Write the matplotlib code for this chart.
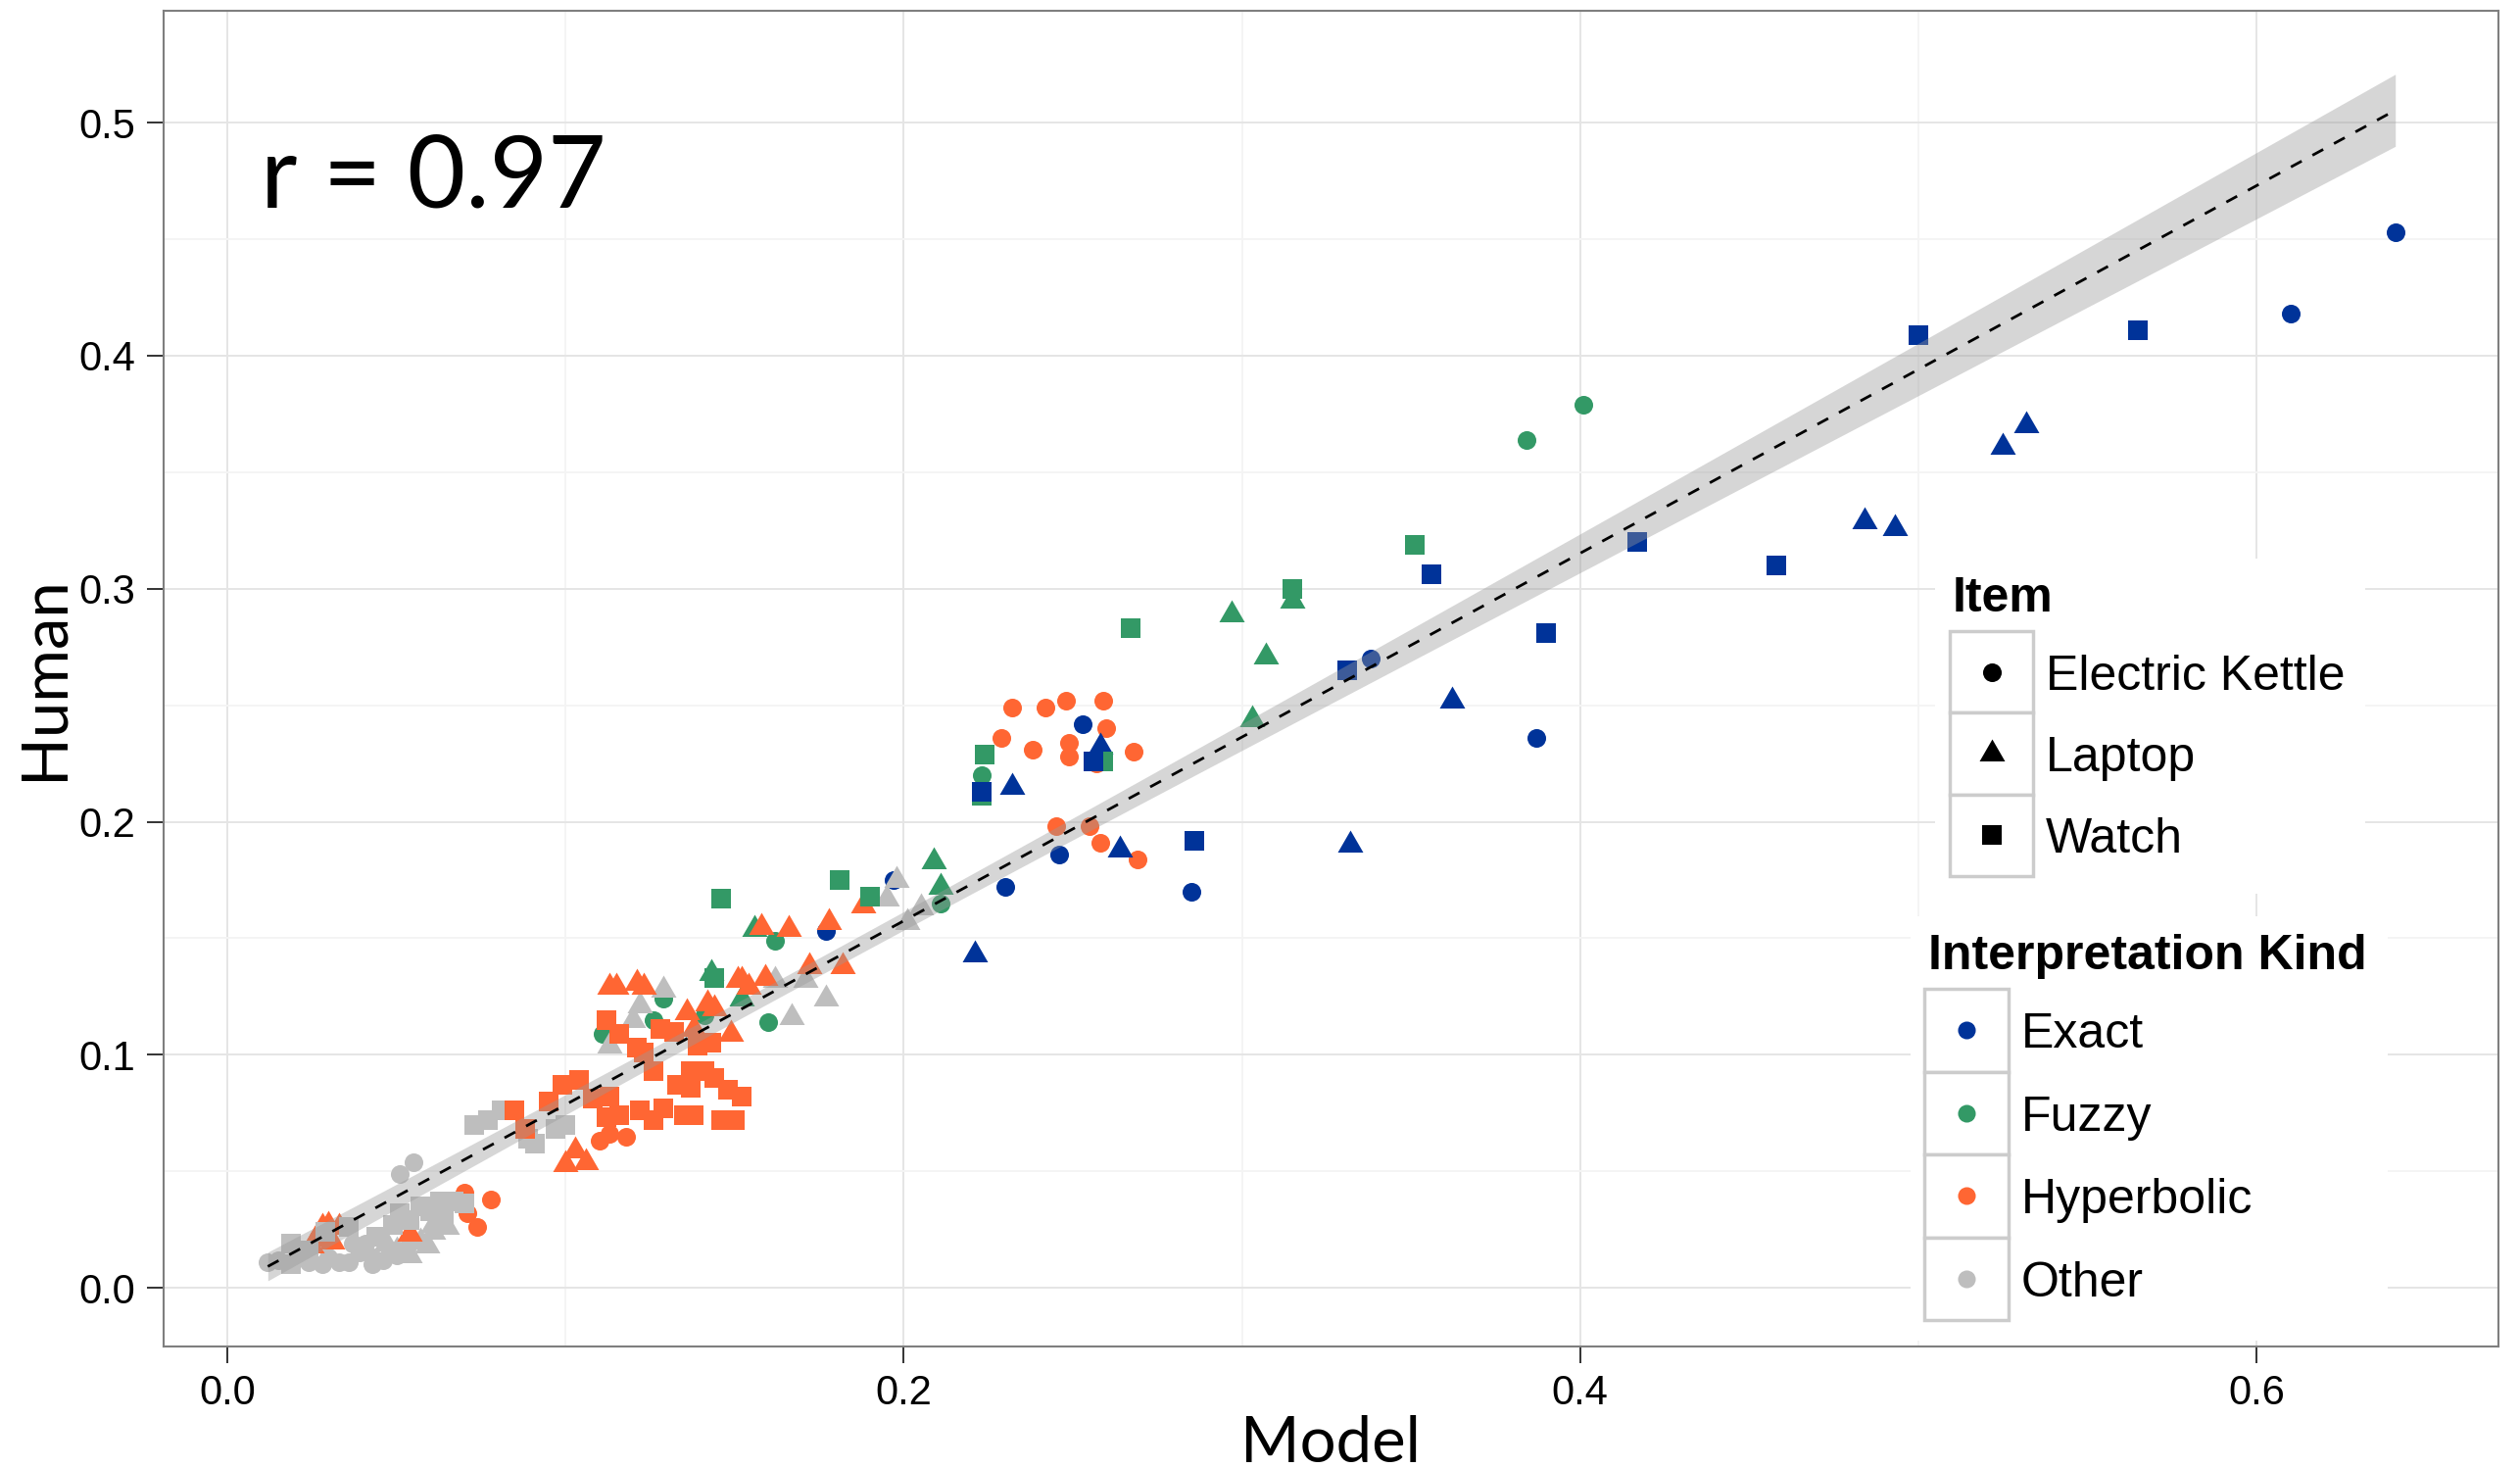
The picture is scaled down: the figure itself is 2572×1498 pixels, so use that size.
import numpy as np
import matplotlib
matplotlib.use('Agg')
import matplotlib.pyplot as plt
from matplotlib.path import Path
from matplotlib.patches import Rectangle
from matplotlib.lines import Line2D

# values (model prediction vs human proportion)
kinds = ['Exact', 'Fuzzy', 'Hyperbolic', 'Other']
items = ['Electric Kettle', 'Laptop', 'Watch']
kind_colors = ['#003399', '#339966', '#FF6633', '#BEBEBE']

exact_kettle_model = [0.641, 0.610, 0.387, 0.338, 0.285, 0.253, 0.246, 0.230, 0.197, 0.177]
exact_kettle_human = [0.453, 0.418, 0.236, 0.270, 0.170, 0.242, 0.186, 0.172, 0.175, 0.153]
exact_laptop_model = [0.532, 0.525, 0.484, 0.493, 0.362, 0.332, 0.258, 0.264, 0.232, 0.221]
exact_laptop_human = [0.370, 0.361, 0.329, 0.326, 0.252, 0.190, 0.232, 0.188, 0.215, 0.143]
exact_watch_model = [0.565, 0.500, 0.458, 0.417, 0.390, 0.356, 0.331, 0.286, 0.256, 0.223]
exact_watch_human = [0.411, 0.409, 0.310, 0.320, 0.281, 0.306, 0.265, 0.192, 0.226, 0.213]

fuzzy_kettle_model = [0.401, 0.384, 0.223, 0.211, 0.162, 0.160, 0.141, 0.129, 0.126, 0.111]
fuzzy_kettle_human = [0.379, 0.364, 0.220, 0.165, 0.149, 0.114, 0.117, 0.124, 0.115, 0.109]
fuzzy_laptop_model = [0.315, 0.297, 0.307, 0.303, 0.209, 0.211, 0.156, 0.143, 0.152]
fuzzy_laptop_human = [0.295, 0.289, 0.271, 0.244, 0.183, 0.172, 0.154, 0.135, 0.124]
fuzzy_watch_model = [0.351, 0.315, 0.267, 0.224, 0.223, 0.259, 0.181, 0.190, 0.146, 0.144]
fuzzy_watch_human = [0.319, 0.300, 0.283, 0.229, 0.211, 0.226, 0.175, 0.168, 0.167, 0.133]

hyper_kettle_model = [0.232, 0.242, 0.248, 0.259, 0.260, 0.229, 0.238, 0.249, 0.249, 0.268, 0.257,
                      0.245, 0.255, 0.258, 0.269, 0.110, 0.113, 0.118, 0.070, 0.078, 0.074, 0.071]
hyper_kettle_human = [0.249, 0.249, 0.252, 0.252, 0.240, 0.236, 0.231, 0.234, 0.228, 0.230, 0.225,
                      0.198, 0.198, 0.191, 0.184, 0.063, 0.066, 0.065, 0.041, 0.038, 0.026, 0.032]
hyper_laptop_model = [0.188, 0.178, 0.158, 0.166, 0.172, 0.182, 0.113, 0.115, 0.121, 0.123, 0.151,
                      0.152, 0.154, 0.159, 0.136, 0.142, 0.144, 0.138, 0.149, 0.100, 0.103, 0.106,
                      0.026, 0.028, 0.030, 0.033, 0.054, 0.025, 0.031]
hyper_laptop_human = [0.164, 0.157, 0.155, 0.154, 0.138, 0.138, 0.129, 0.129, 0.131, 0.129, 0.132,
                      0.132, 0.129, 0.133, 0.118, 0.122, 0.120, 0.111, 0.109, 0.053, 0.059, 0.054,
                      0.021, 0.026, 0.027, 0.026, 0.023, 0.018, 0.020]
hyper_watch_model = [0.112, 0.116, 0.121, 0.123, 0.126, 0.128, 0.132, 0.139, 0.143, 0.137, 0.141,
                     0.133, 0.137, 0.144, 0.148, 0.152, 0.085, 0.088, 0.095, 0.099, 0.104, 0.108,
                     0.113, 0.112, 0.116, 0.122, 0.126, 0.129, 0.135, 0.138, 0.146, 0.150]
hyper_watch_human = [0.115, 0.109, 0.103, 0.101, 0.093, 0.111, 0.110, 0.104, 0.105, 0.093, 0.093,
                     0.087, 0.086, 0.090, 0.085, 0.082, 0.076, 0.068, 0.080, 0.087, 0.089, 0.081,
                     0.082, 0.073, 0.074, 0.076, 0.072, 0.077, 0.074, 0.074, 0.072, 0.072]

other_kettle_model = [0.012, 0.028, 0.033, 0.037, 0.041, 0.043, 0.043, 0.050, 0.051, 0.055,
                      0.015, 0.021, 0.024, 0.030, 0.036, 0.039, 0.046, 0.048, 0.053]
other_kettle_human = [0.011, 0.010, 0.011, 0.019, 0.019, 0.013, 0.010, 0.014, 0.049, 0.054,
                      0.012, 0.013, 0.011, 0.013, 0.011, 0.015, 0.012, 0.016, 0.017]
other_laptop_model = [0.050, 0.054, 0.061, 0.061, 0.113, 0.120, 0.122, 0.129, 0.162, 0.167, 0.171,
                      0.177, 0.195, 0.198, 0.201, 0.205, 0.047, 0.057, 0.059, 0.065]
other_laptop_human = [0.016, 0.014, 0.024, 0.027, 0.104, 0.115, 0.121, 0.128, 0.132, 0.116, 0.132,
                      0.124, 0.167, 0.175, 0.157, 0.163, 0.019, 0.020, 0.018, 0.026]
other_watch_model = [0.019, 0.019, 0.029, 0.036, 0.049, 0.051, 0.057, 0.063, 0.064, 0.067, 0.073,
                     0.077, 0.081, 0.089, 0.091, 0.097, 0.100, 0.024, 0.044, 0.054, 0.060, 0.070]
other_watch_human = [0.019, 0.010, 0.024, 0.026, 0.027, 0.032, 0.035, 0.037, 0.031, 0.037, 0.070,
                     0.072, 0.076, 0.064, 0.062, 0.068, 0.070, 0.016, 0.022, 0.029, 0.033, 0.036]

r_label = 'r = 0.97'
x_ticks = [0.0, 0.2, 0.4, 0.6]
y_ticks = [0.0, 0.1, 0.2, 0.3, 0.4, 0.5]


W, H = 2572, 1498


def fx(px):
    return px / W


def fy(py):
    return 1 - py / H


if __name__ == '__main__':
    plt.rcParams['font.family'] = ['Liberation Sans', 'DejaVu Sans']

    groups = {
        ('Exact', 'Electric Kettle'): (exact_kettle_model, exact_kettle_human),
        ('Exact', 'Laptop'): (exact_laptop_model, exact_laptop_human),
        ('Exact', 'Watch'): (exact_watch_model, exact_watch_human),
        ('Fuzzy', 'Electric Kettle'): (fuzzy_kettle_model, fuzzy_kettle_human),
        ('Fuzzy', 'Laptop'): (fuzzy_laptop_model, fuzzy_laptop_human),
        ('Fuzzy', 'Watch'): (fuzzy_watch_model, fuzzy_watch_human),
        ('Hyperbolic', 'Electric Kettle'): (hyper_kettle_model, hyper_kettle_human),
        ('Hyperbolic', 'Laptop'): (hyper_laptop_model, hyper_laptop_human),
        ('Hyperbolic', 'Watch'): (hyper_watch_model, hyper_watch_human),
        ('Other', 'Electric Kettle'): (other_kettle_model, other_kettle_human),
        ('Other', 'Laptop'): (other_laptop_model, other_laptop_human),
        ('Other', 'Watch'): (other_watch_model, other_watch_human),
    }
    color_of = dict(zip(kinds, kind_colors))

    # ggplot-like solid triangle, centred on its centroid
    tri = Path([(0, 1), (-0.866, -0.5), (0.866, -0.5), (0, 1)],
               [Path.MOVETO, Path.LINETO, Path.LINETO, Path.CLOSEPOLY])
    shape_of = {'Electric Kettle': ('o', 13.7), 'Laptop': (tri, 21.6), 'Watch': ('s', 14.4)}

    fig = plt.figure(figsize=(W / 100, H / 100), dpi=100)
    ax = fig.add_axes([fx(167), fy(1374), fx(2550) - fx(167), fy(11) - fy(1374)])

    draw_order = ['Fuzzy', 'Other', 'Hyperbolic', 'Exact']
    for item in items:
        marker, size = shape_of[item]
        for kind in draw_order:
            mx, hy = groups[(kind, item)]
            ax.scatter(mx, hy, marker=marker, s=size ** 2, color=color_of[kind],
                       linewidths=0, zorder=3)

    # linear fit with 95% confidence band, like geom_smooth(method = lm)
    x_all = np.concatenate([np.asarray(v[0]) for v in groups.values()])
    y_all = np.concatenate([np.asarray(v[1]) for v in groups.values()])
    slope, intercept = np.polyfit(x_all, y_all, 1)
    n = len(x_all)
    resid = y_all - (slope * x_all + intercept)
    s = np.sqrt(np.sum(resid ** 2) / (n - 2))
    sxx = np.sum((x_all - x_all.mean()) ** 2)
    xs = np.linspace(x_all.min(), x_all.max(), 100)
    fit = slope * xs + intercept
    se = s * np.sqrt(1.0 / n + (xs - x_all.mean()) ** 2 / sxx)
    ax.fill_between(xs, fit - 1.97 * se, fit + 1.97 * se, color='#999999', alpha=0.4,
                    linewidth=0, zorder=4)
    ax.plot(xs, fit, color='black', linestyle=(0, (4.5, 4.5)), linewidth=2.0, zorder=5)

    ax.set_xlim(-0.0188, 0.6715)
    ax.set_ylim(-0.0252, 0.548)
    ax.set_xticks(x_ticks)
    ax.set_xticklabels(['%.1f' % t for t in x_ticks])
    ax.set_yticks(y_ticks)
    ax.set_yticklabels(['%.1f' % t for t in y_ticks])
    ax.set_xticks([0.1, 0.3, 0.5], minor=True)
    ax.set_yticks([0.05, 0.15, 0.25, 0.35, 0.45], minor=True)
    ax.grid(which='major', color='#E5E5E5', linewidth=1.4)
    ax.grid(which='minor', color='#F4F4F4', linewidth=1.4)
    ax.set_axisbelow(True)
    ax.tick_params(which='minor', length=0)
    ax.tick_params(which='major', length=12, width=1.4, color='#333333', pad=8.5,
                   labelsize=30, labelcolor='black')
    for sp in ax.spines.values():
        sp.set_color('#7F7F7F')
        sp.set_linewidth(1.5)

    fig.text(fx(266), fy(212), r_label, family='Lato', fontsize=74, ha='left', va='baseline')
    fig.text(fx(1358), fy(1492), 'Model', family='Lato', fontsize=47, ha='center', va='baseline')
    fig.text(fx(63), fy(692), 'Human', family='Lato', fontsize=47, ha='center', va='baseline',
             rotation=90, rotation_mode='anchor')

    # legends drawn by hand, ggplot style with boxed keys
    def legend_block(left, top, right, bottom, title, title_x, title_base, key_left, key_w,
                     key_top, key_h, label_x, entries):
        fig.add_artist(Rectangle((fx(left), fy(bottom)), fx(right) - fx(left), fy(top) - fy(bottom),
                                 transform=fig.transFigure, facecolor='white', edgecolor='none'))
        fig.text(fx(title_x), fy(title_base), title, fontsize=36, fontweight='bold',
                 ha='left', va='baseline')
        for i, (label, marker, size, color) in enumerate(entries):
            t = key_top + i * key_h
            fig.add_artist(Rectangle((fx(key_left), fy(t + key_h)), key_w / W, key_h / H,
                                     transform=fig.transFigure, facecolor='white',
                                     edgecolor='#CCCCCC', linewidth=2.5))
            cy = t + key_h / 2
            fig.add_artist(Line2D([fx(key_left + key_w / 2)], [fy(cy)], transform=fig.transFigure,
                                  marker=marker, markersize=size, color=color, markeredgewidth=0,
                                  linestyle='none'))
            fig.text(fx(label_x), fy(cy + 18), label, fontsize=36, ha='left', va='baseline')

    item_entries = [(it, shape_of[it][0], shape_of[it][1], 'black') for it in items]
    legend_block(1975, 570, 2414, 912, 'Item', 1993, 624, 1990, 85, 644, 83.3, 2088, item_entries)

    kind_entries = [(k, 'o', 13.0, c) for k, c in zip(kinds, kind_colors)]
    legend_block(1950, 935, 2437, 1368, 'Interpretation Kind', 1968, 989, 1964, 86, 1009, 84.5,
                 2063, kind_entries)

    fig.savefig('out.png', dpi=100)
